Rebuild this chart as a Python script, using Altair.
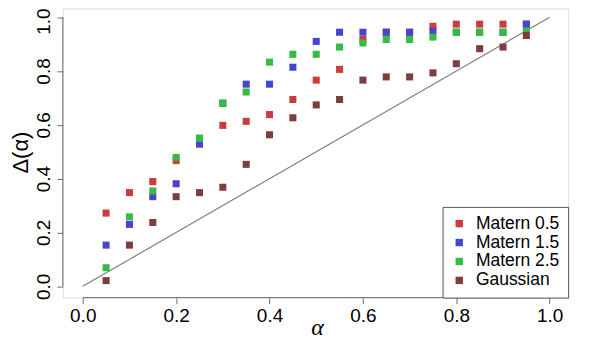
import altair as alt
import pandas as pd

alphas = [0.05, 0.10, 0.15, 0.20, 0.25, 0.30, 0.35, 0.40, 0.45, 0.50,
          0.55, 0.60, 0.65, 0.70, 0.75, 0.80, 0.85, 0.90, 0.95]

series_names = ["Matern 0.5", "Matern 1.5", "Matern 2.5", "Gaussian"]
series_colors = ["#CC3C3C", "#4646CC", "#36BB46", "#7E3E3E"]

matern05 = [0.272, 0.348, 0.389, 0.467, 0.550, 0.598, 0.613, 0.638, 0.694, 0.766,
            0.806, 0.917, 0.944, 0.944, 0.966, 0.974, 0.974, 0.974, 0.974]
matern15 = [0.153, 0.230, 0.333, 0.381, 0.528, 0.680, 0.751, 0.751, 0.814, 0.910,
            0.944, 0.944, 0.944, 0.944, 0.947, 0.944, 0.944, 0.944, 0.974]
matern25 = [0.069, 0.258, 0.354, 0.479, 0.550, 0.681, 0.722, 0.833, 0.862, 0.862,
            0.889, 0.904, 0.917, 0.917, 0.926, 0.944, 0.944, 0.944, 0.948]
gaussian = [0.021, 0.153, 0.237, 0.333, 0.348, 0.368, 0.453, 0.563, 0.626, 0.674,
            0.694, 0.766, 0.778, 0.778, 0.793, 0.827, 0.883, 0.889, 0.932]

tick_values = [0.0, 0.2, 0.4, 0.6, 0.8, 1.0]
diag_x = [0.0, 1.0]
diag_y = [0.0, 1.0]

x_dom = [-0.0427, 1.0395]
y_dom = [-0.042, 1.032]

rows = []
for name, vals in zip(series_names, [matern05, matern15, matern25, gaussian]):
    for a, v in zip(alphas, vals):
        rows.append({"alpha": a, "delta": v, "series": name})
df = pd.DataFrame(rows)

FONT = "Liberation Sans"
AX = "#6e6e6e"

xscale = alt.Scale(domain=x_dom, nice=False, zero=False)
yscale = alt.Scale(domain=y_dom, nice=False, zero=False)

xaxis = alt.Axis(values=tick_values, format=".1f", domain=False, grid=False,
                 tickSize=6, tickColor=AX, labelFontSize=19, labelFont=FONT,
                 labelColor="#000", labelPadding=3, title="α",
                 titleFont="Liberation Serif", titleFontStyle="italic",
                 titleFontSize=24, titleFontWeight="normal", titleColor="#000",
                 titleBaseline="alphabetic", titleY=37, titleX=255)
yaxis = alt.Axis(values=tick_values, format=".1f", domain=False, grid=False,
                 tickSize=6, tickColor=AX, labelFontSize=19, labelFont=FONT,
                 labelColor="#000", labelAngle=-90, labelAlign="center",
                 labelBaseline="bottom", labelPadding=3,
                 labelOffset=alt.condition("datum.value == 1", alt.value(4), alt.value(0)),
                 title="Δ(α)",
                 titleFont=FONT, titleFontSize=22, titleFontWeight="normal",
                 titleColor="#000", titleAngle=-90, titleBaseline="middle",
                 titleAlign="center", titleX=-42, titleY=144)

points = alt.Chart(df).mark_square(size=50, opacity=1).encode(
    x=alt.X("alpha:Q", scale=xscale, axis=xaxis),
    y=alt.Y("delta:Q", scale=yscale, axis=yaxis),
    color=alt.Color("series:N",
                    scale=alt.Scale(domain=series_names, range=series_colors),
                    legend=alt.Legend(title=None, orient="bottom-right", offset=0,
                                      symbolType="square", symbolSize=55,
                                      symbolStrokeWidth=0, labelFont=FONT,
                                      labelFontSize=17.5, labelColor="#000",
                                      labelOffset=8, rowPadding=0,
                                      padding=8, strokeColor="#555",
                                      fillColor="white", labelLimit=200)),
    order=alt.Order("idx:Q"),
).transform_window(idx="row_number()")

diag = alt.Chart(pd.DataFrame({"x": diag_x, "y": diag_y})).mark_line(
    color="#777", strokeWidth=1.1).encode(
    x=alt.X("x:Q", scale=xscale), y=alt.Y("y:Q", scale=yscale))

xline = alt.Chart(pd.DataFrame({"x": [diag_x[0]], "x2": [diag_x[1]], "y": [y_dom[0]]})).mark_rule(
    color=AX, strokeWidth=1).encode(
    x=alt.X("x:Q", scale=xscale), x2="x2:Q", y=alt.Y("y:Q", scale=yscale))
yline = alt.Chart(pd.DataFrame({"y": [diag_y[0]], "y2": [diag_y[1]], "x": [x_dom[0]]})).mark_rule(
    color=AX, strokeWidth=1).encode(
    y=alt.Y("y:Q", scale=yscale), y2="y2:Q", x=alt.X("x:Q", scale=xscale))

chart = alt.layer(diag, xline, yline, points).properties(
    width=507, height=290,
    autosize=alt.AutoSizeParams(type="none"),
    padding={"left": 55, "top": 0, "right": 40, "bottom": 45},
).configure_view(stroke=None).configure(background="white")

chart.save("out.html", embed_options={"renderer": "svg", "actions": False})
